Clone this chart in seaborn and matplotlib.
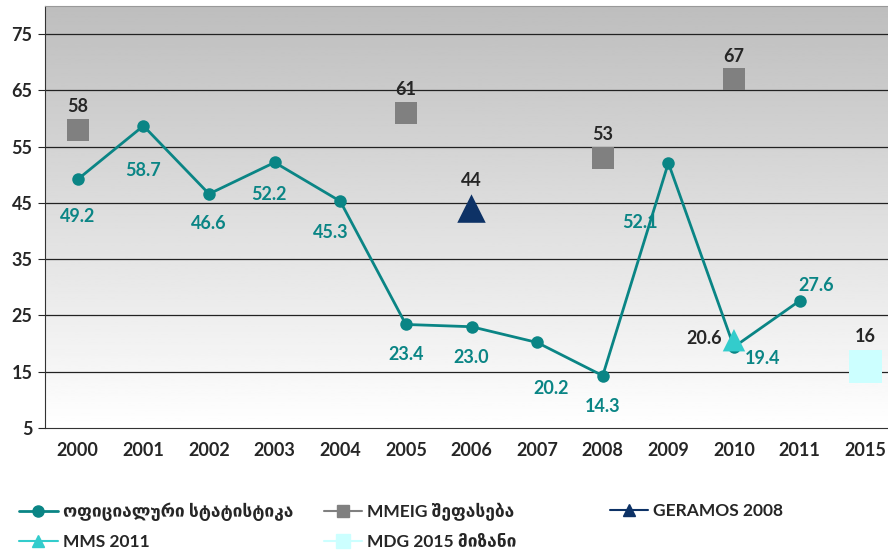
import numpy as np
import pandas as pd
import matplotlib
matplotlib.use('Agg')
import matplotlib.pyplot as plt
from matplotlib.lines import Line2D
import seaborn as sns

# data
years = ['2000', '2001', '2002', '2003', '2004', '2005', '2006',
         '2007', '2008', '2009', '2010', '2011', '2015']
official_years = ['2000', '2001', '2002', '2003', '2004', '2005', '2006',
                  '2007', '2008', '2009', '2010', '2011']
official_vals = [49.2, 58.7, 46.6, 52.2, 45.3, 23.4, 23.0, 20.2, 14.3, 52.1, 19.4, 27.6]
mmeig_years = ['2000', '2005', '2008', '2010']
mmeig_vals = [58, 61, 53, 67]
geramos_years = ['2006']
geramos_vals = [44]
mms_years = ['2010']
mms_vals = [20.6]
mdg_years = ['2015']
mdg_vals = [16]

names = ['ოფიციალური სტატისტიკა', 'MMEIG შეფასება', 'GERAMOS 2008',
         'MMS 2011', 'MDG 2015 მიზანი']
colors = ['#0a8585', '#808080', '#0d3266', '#33cccc', '#ccffff']

sns.set_style('white')
plt.rcParams['font.family'] = ['Lato', 'DejaVu Sans']

pos = {y: i for i, y in enumerate(years)}
df_off = pd.DataFrame({'x': [pos[y] for y in official_years], 'v': official_vals})

fig = plt.figure(figsize=(8.88, 5.57), dpi=100)
ax = fig.add_axes([45 / 888, 129 / 557, 853 / 888, 422 / 557])

# gradient background: white at bottom, grey at top
grad = np.linspace(1, 0, 256).reshape(-1, 1)
ax.imshow(grad, extent=[-0.5, len(years) - 0.5, 5, 80], aspect='auto',
          cmap='gray', vmin=-2.9, vmax=1.0, origin='lower', zorder=0)

for yv in range(15, 80, 10):
    ax.axhline(yv, color='#222222', lw=0.9, zorder=1)

sns.lineplot(data=df_off, x='x', y='v', color=colors[0], lw=2, marker='o',
             markersize=9, markeredgewidth=0, ax=ax, zorder=3)
sns.scatterplot(x=[pos[y] for y in mmeig_years], y=mmeig_vals, marker='s', s=260,
                color=colors[1], edgecolor='none', ax=ax, zorder=4)
sns.scatterplot(x=[pos[y] for y in geramos_years], y=geramos_vals, marker='^', s=420,
                color=colors[2], edgecolor='none', ax=ax, zorder=4)
sns.scatterplot(x=[pos[y] for y in mms_years], y=mms_vals, marker='^', s=260,
                color=colors[3], edgecolor='none', ax=ax, zorder=5)
sns.scatterplot(x=[pos[y] for y in mdg_years], y=mdg_vals, marker='s', s=560,
                color=colors[4], edgecolor='none', ax=ax, zorder=4)

fs = 13
# labels for official series (pixel offsets)
off_offsets = [(0, -37), (0, -45), (0, -30), (-6, -32), (-10, -31), (0, -30),
               (0, -31), (14, -46), (0, -31), (-28, -60), (29, -12), (17, 15)]
for x, v, (dx, dy) in zip(df_off['x'], official_vals, off_offsets):
    ax.annotate(f'{v:.1f}', (x, v), xytext=(dx, dy), textcoords='offset pixels',
                ha='center', va='center', color=colors[0], fontsize=fs,
                fontweight='bold', zorder=6)
for y, v in zip(mmeig_years, mmeig_vals):
    ax.annotate(str(v), (pos[y], v), xytext=(0, 23), textcoords='offset pixels',
                ha='center', va='center', fontsize=fs, fontweight='bold')
for y, v in zip(geramos_years, geramos_vals):
    ax.annotate(str(v), (pos[y], v), xytext=(0, 28), textcoords='offset pixels',
                ha='center', va='center', fontsize=fs, fontweight='bold')
for y, v in zip(mms_years, mms_vals):
    ax.annotate(f'{v:.1f}', (pos[y], v), xytext=(-30, 2), textcoords='offset pixels',
                ha='center', va='center', fontsize=fs, fontweight='bold')
for y, v in zip(mdg_years, mdg_vals):
    ax.annotate(str(v), (pos[y], v), xytext=(0, 30), textcoords='offset pixels',
                ha='center', va='center', fontsize=fs, fontweight='bold')

ax.set_xlim(-0.5, len(years) - 0.5)
ax.set_ylim(5, 80)
ax.set_yticks(range(5, 80, 10))
ax.set_xticks(range(len(years)))
ax.set_xticklabels(years)
ax.set_xticks(np.arange(-0.5, len(years), 1), minor=True)
ax.tick_params(axis='x', which='major', length=0, pad=10)
ax.tick_params(axis='x', which='minor', length=5, width=0.8, color='#444444')
ax.tick_params(axis='y', length=5, width=0.8, left=True, pad=4)
for lab in ax.get_xticklabels() + ax.get_yticklabels():
    lab.set_fontweight('bold')
    lab.set_fontsize(fs)
ax.set_xlabel('')
ax.set_ylabel('')
for s in ['left', 'bottom']:
    ax.spines[s].set_color('#333333')
ax.spines['top'].set_color('#999999')
ax.spines['right'].set_visible(False)

handles = [
    Line2D([], [], color=colors[0], lw=2, marker='o', markersize=8),
    Line2D([], [], color=colors[1], lw=1.5, marker='s', markersize=8),
    Line2D([], [], color=colors[2], lw=1.5, marker='^', markersize=9),
    Line2D([], [], color=colors[3], lw=1.5, marker='^', markersize=9),
    Line2D([], [], color=colors[4], lw=1.5, marker='s', markersize=10),
]
# one legend per column, placed like the reference
columns = [([0, 3], 0.012), ([1, 4], 0.355), ([2], 0.677)]
for idx, xpos in columns:
    fig.legend([handles[i] for i in idx], [names[i] for i in idx],
               loc='upper left', bbox_to_anchor=(xpos, 0.113),
               ncol=1, frameon=False, handlelength=2.2, borderpad=0,
               handletextpad=0.3, labelspacing=0.75,
               prop={'weight': 'bold', 'size': 12.5})

fig.savefig('out.png', dpi=100)
